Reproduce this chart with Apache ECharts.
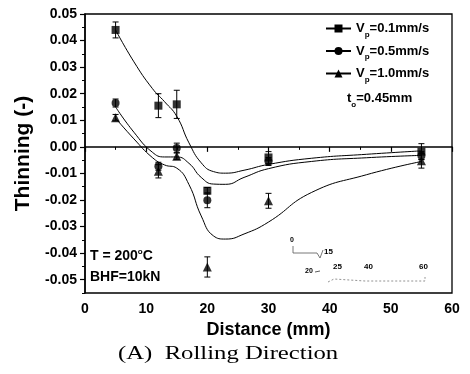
<!DOCTYPE html>
<html>
<head>
<meta charset="utf-8">
<script src="https://cdn.jsdelivr.net/npm/echarts@6/dist/echarts.min.js"></script>
<style>
  html, body { margin: 0; padding: 0; background: #fff; }
  #main { width: 470px; height: 374px; }
</style>
</head>
<body>
<div id="main"></div>
<script>
// measured points (distance in mm)
var distance = [5, 12, 15, 20, 30, 55];
var thin01 = [0.044, 0.0155, 0.016, -0.0165, -0.004, -0.0018];
var err01 = [0.003, 0.0045, 0.0053, 0.0012, 0.0022, 0.003];
var thin05 = [0.0165, -0.0073, -0.0004, -0.0201, -0.0055, -0.0033];
var err05 = [0.0015, 0.0015, 0.0018, 0.0028, 0.0015, 0.0015];
var thin10 = [0.011, -0.0092, -0.0035, -0.0452, -0.0203, -0.0052];
var err10 = [0.0012, 0.0025, 0.0012, 0.0038, 0.0028, 0.0028];

// fitted curves
var fit01 = [[5, 0.044], [8, 0.032], [11, 0.022], [13, 0.017], [15, 0.0115], [17, 0.0015],
  [19, -0.006], [21, -0.0093], [23, -0.0099], [26, -0.0088], [30, -0.0066], [37, -0.0043],
  [46, -0.0028], [55, -0.0015]];
var fit05 = [[5, 0.015], [8, 0.0055], [11, -0.002], [13, -0.0038], [15, -0.0038], [17, -0.0062],
  [19, -0.0115], [21, -0.014], [23, -0.0141], [26, -0.0115], [30, -0.0082], [37, -0.0055],
  [46, -0.0041], [55, -0.0032]];
var fit10 = [[5, 0.0108], [8, 0.003], [11, -0.004], [13, -0.0068], [15, -0.008], [17, -0.0142],
  [19, -0.026], [21, -0.0335], [23, -0.0347], [26, -0.0328], [30, -0.0283], [37, -0.0172],
  [46, -0.0105], [55, -0.0055]];

var seriesNames = ['Vp=0.1mm/s', 'Vp=0.5mm/s', 'Vp=1.0mm/s'];
var yTicks = [-0.05, -0.04, -0.03, -0.02, -0.01, 0, 0.01, 0.02, 0.03, 0.04, 0.05];
var yMinorTicks = [-0.055, -0.045, -0.035, -0.025, -0.015, -0.005, 0.005, 0.015, 0.025, 0.035, 0.045];

var font = 'Liberation Sans, Arial, sans-serif';

function points(ys) {
  return distance.map(function (d, i) { return [d, ys[i]]; });
}
function bars(ys, es) {
  return distance.map(function (d, i) { return [d, ys[i], es[i]]; });
}

function errorBar(params, api) {
  var x = api.value(0), y = api.value(1), e = api.value(2);
  var top = api.coord([x, y + e]);
  var bot = api.coord([x, y - e]);
  var w = 3;
  var st = { stroke: '#000', lineWidth: 1 };
  return {
    type: 'group',
    children: [
      { type: 'line', shape: { x1: top[0], y1: top[1], x2: bot[0], y2: bot[1] }, style: st },
      { type: 'line', shape: { x1: top[0] - w, y1: top[1], x2: top[0] + w, y2: top[1] }, style: st },
      { type: 'line', shape: { x1: bot[0] - w, y1: bot[1], x2: bot[0] + w, y2: bot[1] }, style: st }
    ]
  };
}

function fitLine(name, data, sym) {
  return {
    name: name, type: 'line', data: data, smooth: 0.5,
    symbol: sym, showSymbol: false, silent: true,
    lineStyle: { color: '#000', width: 1 }, itemStyle: { color: '#000' }
  };
}
function marks(data, sym, size) {
  return {
    type: 'scatter', data: data, symbol: sym, symbolSize: size, silent: true, z: 4,
    itemStyle: { color: '#000' }
  };
}
function errs(data) {
  return { type: 'custom', data: data, renderItem: errorBar, encode: { x: 0, y: 1 }, silent: true, z: 3 };
}

var myChart = echarts.init(document.getElementById('main'));
var option = {
  backgroundColor: '#fff',
  animation: false,
  grid: { left: 85, right: 18, top: 14, bottom: 81, show: true, borderColor: '#000', borderWidth: 1.3 },
  legend: {
    data: seriesNames,
    orient: 'vertical',
    left: 320, top: 17,
    itemWidth: 25, itemHeight: 10, itemGap: 6,
    formatter: function (name) { return '{v|V}{s|p}{v|' + name.slice(2) + '}'; },
    textStyle: {
      rich: {
        v: { fontFamily: font, fontWeight: 'bold', fontSize: 13, color: '#000' },
        s: { fontFamily: font, fontWeight: 'bold', fontSize: 8, color: '#000', padding: [12, 0, 0, 0] }
      }
    }
  },
  xAxis: {
    type: 'value', min: 0, max: 60, interval: 10,
    name: 'Distance (mm)', nameLocation: 'middle', nameGap: 28,
    nameTextStyle: { fontFamily: font, fontWeight: 'bold', fontSize: 18, color: '#000' },
    axisLine: { lineStyle: { color: '#000', width: 1.5 } },
    axisTick: { length: 5, lineStyle: { color: '#000', width: 1.2 } },
    minorTick: { show: true, splitNumber: 2, length: 3, lineStyle: { color: '#000' } },
    splitLine: { show: false },
    axisLabel: { fontFamily: font, fontWeight: 'bold', fontSize: 14, color: '#000', margin: 9 }
  },
  yAxis: [{
    type: 'value', min: -0.055, max: 0.05,
    name: 'Thinning (-)', nameLocation: 'middle', nameGap: 48,
    nameTextStyle: { fontFamily: font, fontWeight: 'bold', fontSize: 21, color: '#000' },
    axisLine: { lineStyle: { color: '#000', width: 1.5 } },
    axisTick: { length: 5, customValues: yTicks, lineStyle: { color: '#000', width: 1.2 } },
    splitLine: { show: false },
    axisLabel: {
      customValues: yTicks, fontFamily: font, fontWeight: 'bold', fontSize: 14, color: '#000', margin: 8,
      formatter: function (v) { return (Math.abs(v) < 1e-9 ? 0 : v).toFixed(2); }
    }
  }, {
    type: 'value', min: -0.055, max: 0.05, position: 'left',
    axisLine: { show: false },
    axisTick: { length: 3, customValues: yMinorTicks, lineStyle: { color: '#000' } },
    axisLabel: { show: false }, splitLine: { show: false }
  }],
  graphic: [
    {
      type: 'text', left: 347, top: 92,
      style: {
        text: '{v|t}{s|o}{v|=0.45mm}',
        rich: {
          v: { fontFamily: font, fontWeight: 'bold', fontSize: 13, fill: '#000' },
          s: { fontFamily: font, fontWeight: 'bold', fontSize: 8, fill: '#000', padding: [12, 0, 0, 0] }
        }
      }
    },
    {
      type: 'text', left: 90, top: 248,
      style: {
        text: '{v|T = 200}{o|o}{v|C}',
        rich: {
          v: { fontFamily: font, fontWeight: 'bold', fontSize: 14, fill: '#000' },
          o: { fontFamily: font, fontWeight: 'bold', fontSize: 8, fill: '#000', padding: [0, 0, 9, 0] }
        }
      }
    },
    {
      type: 'text', left: 90, top: 270,
      style: { text: 'BHF=10kN', font: 'bold 14px ' + font, fill: '#000' }
    },
    {
      type: 'text', x: 118, y: 345, scaleX: 1.3,
      style: { text: '(A)  Rolling Direction', font: '19px Liberation Serif, Times New Roman, serif', fill: '#000' }
    },
    // small schematic in the lower right corner
    { type: 'text', left: 290, top: 237, style: { text: '0', font: 'bold 7px ' + font, fill: '#000' } },
    { type: 'polyline', shape: { points: [[293, 246], [293, 253], [317, 253], [320, 258], [323, 250]] }, style: { stroke: '#555', lineWidth: 0.8, fill: null } },
    { type: 'text', left: 324, top: 248, style: { text: '15', font: 'bold 8px ' + font, fill: '#000' } },
    { type: 'text', left: 305, top: 268, style: { text: '20', font: 'bold 7px ' + font, fill: '#000' } },
    { type: 'line', shape: { x1: 315, y1: 272, x2: 320, y2: 271 }, style: { stroke: '#333', lineWidth: 0.8 } },
    { type: 'text', left: 333, top: 263, style: { text: '25', font: 'bold 8px ' + font, fill: '#000' } },
    { type: 'text', left: 364, top: 263, style: { text: '40', font: 'bold 8px ' + font, fill: '#000' } },
    { type: 'text', left: 419, top: 263, style: { text: '60', font: 'bold 8px ' + font, fill: '#000' } },
    { type: 'polyline', shape: { points: [[328, 282], [334, 279], [365, 281], [425, 281], [425, 277]] }, style: { stroke: '#777', lineWidth: 0.8, lineDash: [2, 2], fill: null } }
  ],
  series: [
    fitLine(seriesNames[0], fit01, 'rect'),
    fitLine(seriesNames[1], fit05, 'circle'),
    fitLine(seriesNames[2], fit10, 'triangle'),
    errs(bars(thin01, err01)),
    errs(bars(thin05, err05)),
    errs(bars(thin10, err10)),
    marks(points(thin01), 'rect', 8),
    marks(points(thin05), 'circle', 8),
    marks(points(thin10), 'triangle', 9)
  ]
};

myChart.setOption(option);
</script>
</body>
</html>
